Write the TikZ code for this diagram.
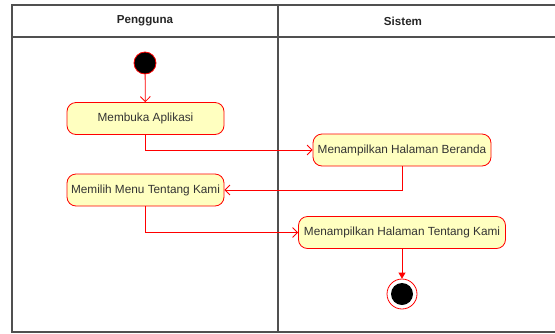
\documentclass[tikz,border=0pt]{standalone}
\usepackage{fontspec}
\setmainfont{Liberation Sans}
\usetikzlibrary{arrows.meta}
\definecolor{ActFill}{HTML}{FFFFC0}
\definecolor{ActRed}{HTML}{FF0000}
\definecolor{LaneGray}{HTML}{505050}

\begin{document}
\begin{tikzpicture}[x=1pt,y=-1pt,
  act/.style={draw=ActRed,fill=ActFill,line width=0.8pt,rounded corners=9pt,minimum height=32pt,inner sep=0pt,
    text=black!80,font=\fontsize{11.8}{14}\selectfont},
  flow/.style={draw=ActRed,line width=0.8pt,-{Straight Barb[length=5pt,width=10pt]}},
  flowend/.style={draw=ActRed,line width=0.8pt,-{Triangle[length=6pt,width=7pt]}},
  lane/.style={draw=LaneGray,line width=1.1pt},
  head/.style={font=\bfseries\fontsize{11.6}{14}\selectfont,text=black!85}]
  \useasboundingbox (0,0) rectangle (555,333);
  % swimlanes
  \draw[lane] (12,5) rectangle (600,332);
  \draw[lane] (12,37) -- (600,37);
  \draw[lane] (278,5) -- (278,332);
  \node[head] (pengguna) at (145,21) {Pengguna};
  \node[head] (sistem) at (403,21) {Sistem};
  % activities
  \node[circle,fill=black,draw=ActRed,line width=0.8pt,minimum size=22pt,inner sep=0pt] (mulai) at (145,63) {};
  \node[act,minimum width=157pt] (buka) at (145.5,118.5) {Membuka Aplikasi};
  \node[act,minimum width=178pt] (beranda) at (402,150) {Menampilkan Halaman Beranda};
  \node[act,minimum width=157pt] (pilih) at (145.5,190) {Memilih Menu Tentang Kami};
  \node[act,minimum width=207pt] (tentang) at (402,232.5) {Menampilkan Halaman Tentang Kami};
  \node[circle,fill=white,draw=ActRed,line width=0.8pt,minimum size=30pt,inner sep=0pt] (akhir) at (402,294) {};
  \node[circle,fill=black,minimum size=22pt,inner sep=0pt] (akhirdot) at (akhir) {};
  % flows
  \draw[flow] (mulai) -- (buka);
  \draw[flow] (buka.south) |- (beranda.west);
  \draw[flow] (beranda.south) |- (pilih.east);
  \draw[flow] (pilih.south) |- (tentang.west);
  \draw[flowend] (tentang) -- (akhir);
\end{tikzpicture}
\end{document}
